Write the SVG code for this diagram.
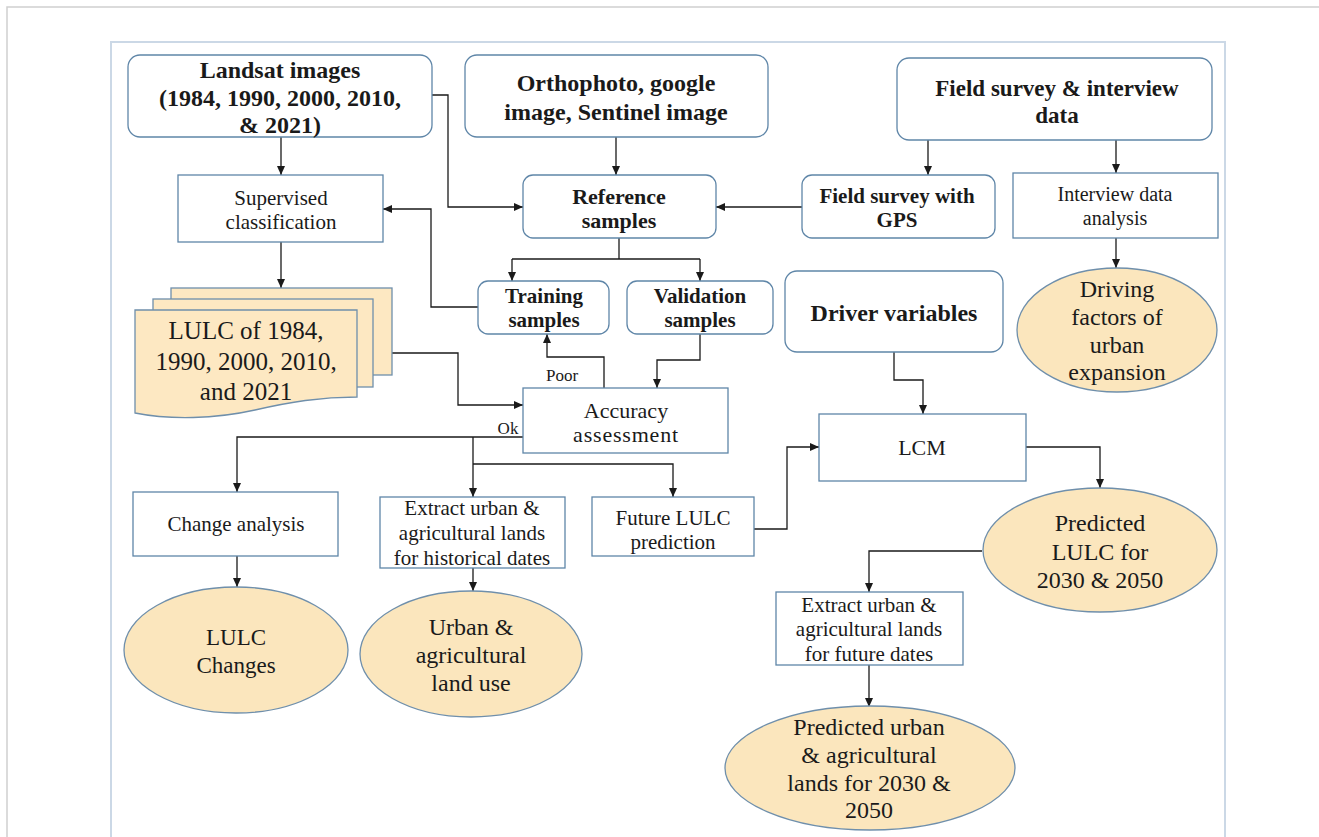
<svg xmlns="http://www.w3.org/2000/svg" width="1319" height="837" viewBox="0 0 1319 837">
<style>
  text { font-family: "Liberation Serif", "DejaVu Serif", "Times New Roman", serif; fill: #1a1a1a; text-anchor: middle; dominant-baseline: central; }
  .b { font-weight: bold; }
  .rbox { fill: #ffffff; stroke: #5f86a8; stroke-width: 1.3; }
  .box { fill: #ffffff; stroke: #5f86a8; stroke-width: 1.3; }
  .ell { fill: #fbe6bd; stroke: #6f8fab; stroke-width: 1.3; }
  .doc { fill: #fde8c2; stroke: #6f8fab; stroke-width: 1.3; }
  .con { fill: none; stroke: #1a1a1a; stroke-width: 1.3; }
</style>
<defs>
  <marker id="ah" markerWidth="10" markerHeight="10" refX="9" refY="5" orient="auto" markerUnits="userSpaceOnUse">
    <path d="M0,1 L9,5 L0,9 Z" fill="#1a1a1a"/>
  </marker>
</defs>
<rect x="0" y="0" width="1319" height="837" fill="#ffffff"/>
<rect x="7" y="7" width="1330" height="850" fill="none" stroke="#cfcfcf" stroke-width="1.5"/>
<rect x="111" y="42" width="1114" height="800" fill="none" stroke="#cbd8e6" stroke-width="2"/>

<g id="connectors">
  <path class="con" d="M281,137 V175" marker-end="url(#ah)"/>
  <path class="con" d="M432,95 H448 V207 H523" marker-end="url(#ah)"/>
  <path class="con" d="M616,137 V175" marker-end="url(#ah)"/>
  <path class="con" d="M928,140 V175" marker-end="url(#ah)"/>
  <path class="con" d="M1116,140 V173" marker-end="url(#ah)"/>
  <path class="con" d="M802,207 H716" marker-end="url(#ah)"/>
  <path class="con" d="M1116,238 V268" marker-end="url(#ah)"/>
  <path class="con" d="M619,238 V259"/>
  <path class="con" d="M512,259 H700"/>
  <path class="con" d="M512,259 V281" marker-end="url(#ah)"/>
  <path class="con" d="M700,259 V281" marker-end="url(#ah)"/>
  <path class="con" d="M478,307 H431 V209 H383" marker-end="url(#ah)"/>
  <path class="con" d="M281,242 V288" marker-end="url(#ah)"/>
  <path class="con" d="M392,353 H458 V405 H523" marker-end="url(#ah)"/>
  <path class="con" d="M604,388 V357 H547 V334" marker-end="url(#ah)"/>
  <path class="con" d="M700,334 V360 H657 V388" marker-end="url(#ah)"/>
  <path class="con" d="M523,437 H237 V492" marker-end="url(#ah)"/>
  <path class="con" d="M473,437 V497" marker-end="url(#ah)"/>
  <path class="con" d="M473,464 H673 V497" marker-end="url(#ah)"/>
  <path class="con" d="M237,556 V587" marker-end="url(#ah)"/>
  <path class="con" d="M473,568 V591" marker-end="url(#ah)"/>
  <path class="con" d="M754,529 H787 V447 H819" marker-end="url(#ah)"/>
  <path class="con" d="M894,352 V380 H923 V414" marker-end="url(#ah)"/>
  <path class="con" d="M1026,447 H1100 V488" marker-end="url(#ah)"/>
  <path class="con" d="M982,551 H869 V592" marker-end="url(#ah)"/>
  <path class="con" d="M869,665 V707" marker-end="url(#ah)"/>
  <text x="562" y="375" font-size="17">Poor</text>
  <text x="508" y="428" font-size="17">Ok</text>
</g>

<g id="landsat">
  <rect class="rbox" x="128" y="55" width="304" height="82" rx="12"/>
  <text class="b" x="280" y="70" font-size="24">Landsat images</text>
  <text class="b" x="280" y="98" font-size="24">(1984, 1990, 2000, 2010,</text>
  <text class="b" x="280" y="125" font-size="24">&amp; 2021)</text>
</g>
<g id="orthophoto">
  <rect class="rbox" x="465" y="55" width="303" height="82" rx="12"/>
  <text class="b" x="616" y="83" font-size="24">Orthophoto,  google</text>
  <text class="b" x="616" y="112" font-size="24">image, Sentinel  image</text>
</g>
<g id="fieldsurvey">
  <rect class="rbox" x="897" y="58" width="315" height="82" rx="12"/>
  <text class="b" x="1057" y="88" font-size="23">Field survey &amp; interview</text>
  <text class="b" x="1057" y="115" font-size="23">data</text>
</g>
<g id="supervised">
  <rect class="box" x="178" y="175" width="205" height="67"/>
  <text x="281" y="198" font-size="21">Supervised</text>
  <text x="281" y="222" font-size="21">classification</text>
</g>
<g id="reference">
  <rect class="rbox" x="523" y="175" width="193" height="63" rx="10"/>
  <text class="b" x="619" y="196" font-size="22">Reference</text>
  <text class="b" x="619" y="220" font-size="22">samples</text>
</g>
<g id="gps">
  <rect class="rbox" x="802" y="175" width="193" height="63" rx="10"/>
  <text class="b" x="897" y="196" font-size="21">Field survey with</text>
  <text class="b" x="897" y="220" font-size="21">GPS</text>
</g>
<g id="interview">
  <rect class="box" x="1013" y="173" width="205" height="65"/>
  <text x="1115" y="194" font-size="20">Interview  data</text>
  <text x="1115" y="218" font-size="20">analysis</text>
</g>
<g id="driving">
  <ellipse class="ell" cx="1117" cy="330" rx="100" ry="62"/>
  <text x="1117" y="289" font-size="24">Driving</text>
  <text x="1117" y="317" font-size="24">factors of</text>
  <text x="1117" y="345" font-size="24">urban</text>
  <text x="1117" y="372" font-size="24">expansion</text>
</g>
<g id="driver">
  <rect class="rbox" x="785" y="271" width="218" height="81" rx="12"/>
  <text class="b" x="894" y="313" font-size="24">Driver variables</text>
</g>
<g id="training">
  <rect class="rbox" x="478" y="281" width="131" height="53" rx="10"/>
  <text class="b" x="544" y="296" font-size="21">Training</text>
  <text class="b" x="544" y="320" font-size="21">samples</text>
</g>
<g id="validation">
  <rect class="rbox" x="627" y="281" width="146" height="53" rx="10"/>
  <text class="b" x="700" y="296" font-size="21">Validation</text>
  <text class="b" x="700" y="320" font-size="21">samples</text>
</g>
<g id="lulc">
  <rect class="doc" x="171" y="288" width="221" height="87"/>
  <rect class="doc" x="153" y="299" width="220" height="88"/>
  <path class="doc" d="M135,310 H357 V397 C320,397 290,402 255,410 C215,419 170,420 135,413 Z"/>
  <text x="246" y="330" font-size="25">LULC  of 1984,</text>
  <text x="246" y="361" font-size="25">1990, 2000, 2010,</text>
  <text x="246" y="391" font-size="25">and 2021</text>
</g>
<g id="accuracy">
  <rect class="box" x="523" y="388" width="205" height="65"/>
  <text x="626" y="410" font-size="22">Accuracy</text>
  <text x="626" y="434" font-size="22" letter-spacing="0.8">assessment</text>
</g>
<g id="lcm">
  <rect class="box" x="819" y="414" width="207" height="67"/>
  <text x="922" y="447" font-size="22">LCM</text>
</g>
<g id="change">
  <rect class="box" x="133" y="492" width="205" height="64"/>
  <text x="236" y="524" font-size="21">Change  analysis</text>
</g>
<g id="extracthist">
  <rect class="box" x="380" y="497" width="185" height="71"/>
  <text x="472" y="508" font-size="21">Extract urban  &amp;</text>
  <text x="472" y="533" font-size="21">agricultural  lands</text>
  <text x="472" y="558" font-size="21">for historical  dates</text>
</g>
<g id="future">
  <rect class="box" x="592" y="497" width="162" height="59"/>
  <text x="673" y="518" font-size="21">Future LULC</text>
  <text x="673" y="542" font-size="21">prediction</text>
</g>
<g id="predlulc">
  <ellipse class="ell" cx="1100" cy="550" rx="117" ry="62"/>
  <text x="1100" y="523" font-size="24">Predicted</text>
  <text x="1100" y="552" font-size="24">LULC  for</text>
  <text x="1100" y="580" font-size="24">2030 &amp; 2050</text>
</g>
<g id="lulcchanges">
  <ellipse class="ell" cx="236" cy="650" rx="112" ry="63"/>
  <text x="236" y="637" font-size="23">LULC</text>
  <text x="236" y="665" font-size="23">Changes</text>
</g>
<g id="urbanag">
  <ellipse class="ell" cx="471" cy="654" rx="111" ry="63"/>
  <text x="471" y="627" font-size="24">Urban  &amp;</text>
  <text x="471" y="655" font-size="24">agricultural</text>
  <text x="471" y="683" font-size="24">land  use</text>
</g>
<g id="extractfuture">
  <rect class="box" x="776" y="592" width="187" height="73"/>
  <text x="869" y="605" font-size="21">Extract urban &amp;</text>
  <text x="869" y="629" font-size="21">agricultural  lands</text>
  <text x="869" y="654" font-size="21">for future dates</text>
</g>
<g id="predurban">
  <ellipse class="ell" cx="870" cy="768" rx="145" ry="62"/>
  <text x="869" y="727" font-size="24">Predicted  urban</text>
  <text x="869" y="755" font-size="24">&amp; agricultural</text>
  <text x="869" y="783" font-size="24">lands for 2030 &amp;</text>
  <text x="869" y="810" font-size="24">2050</text>
</g>
</svg>
